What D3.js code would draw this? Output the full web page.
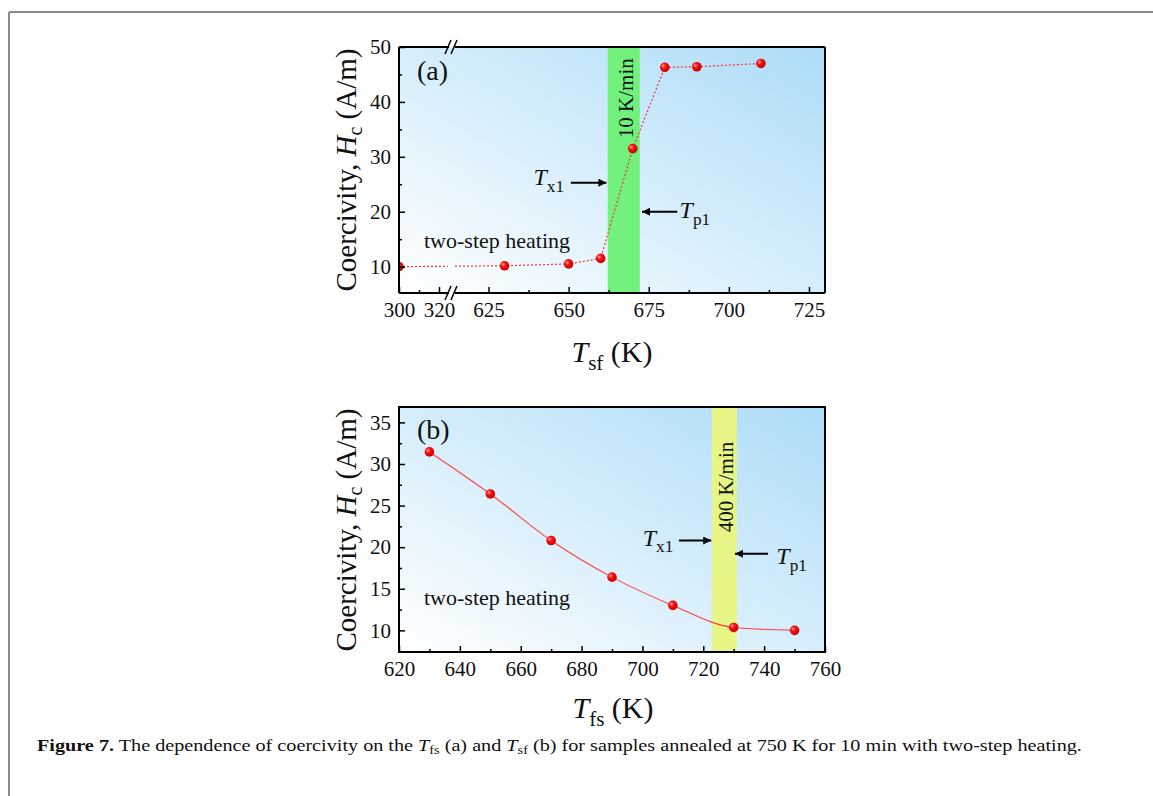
<!DOCTYPE html>
<html>
<head>
<meta charset="utf-8">
<script src="https://cdn.jsdelivr.net/npm/d3@7"></script>
<style>
  body { margin: 0; background: #fff; }
  svg text { font-family: "Liberation Serif", "Times New Roman", Times, "Nimbus Roman", "Nimbus Roman No9 L", FreeSerif, serif; fill: #111; }
</style>
</head>
<body>
<div id="chart"></div>
<script>
// Coercivity vs annealing temperature, two panels

const serifFont = "'Liberation Serif', 'Times New Roman', Times, 'Nimbus Roman', FreeSerif, serif";

// panel (a): Hc vs T_sf (broken x axis)
const tsfTemps = [300, 630, 650, 660, 670, 680, 690, 710];
const tsfHc = [10.0, 10.15, 10.5, 11.5, 31.5, 46.3, 46.4, 47.0];
const tsfMajorTicks = [300, 320, 625, 650, 675, 700, 725];
const tsfMinorTicks = [310, 637.5, 662.5, 687.5, 712.5];
const hcTicksA = [10, 20, 30, 40, 50];
const hcMinorA = [15, 25, 35, 45];
const bandA = [662.2, 672.2];

// panel (b): Hc vs T_fs
const tfsTemps = [630, 650, 670, 690, 710, 730, 750];
const tfsHc = [31.45, 26.4, 20.8, 16.4, 13.0, 10.35, 10.0];
const tfsMajorTicks = [620, 640, 660, 680, 700, 720, 740, 760];
const tfsMinorTicks = [630, 650, 670, 690, 710, 730, 750];
const hcTicksB = [10, 15, 20, 25, 30, 35];
const hcMinorB = [7.5, 12.5, 17.5, 22.5, 27.5, 32.5];
const bandB = [722.8, 731.0];

const W = 1153, H = 796;

const svg = d3.select("#chart")
  .append("svg")
  .attr("width", W)
  .attr("height", H);

// figure frame (top and left rule only)
svg.append("line").attr("x1", 9).attr("x2", W).attr("y1", 12).attr("y2", 12)
  .attr("stroke", "#8a8a8a").attr("stroke-width", 2);
svg.append("line").attr("x1", 9).attr("x2", 9).attr("y1", 12).attr("y2", H)
  .attr("stroke", "#8a8a8a").attr("stroke-width", 2);

const defs = svg.append("defs");

const bg = defs.append("linearGradient")
  .attr("id", "bgGrad")
  .attr("x1", 0).attr("y1", 1).attr("x2", 1).attr("y2", 0);
bg.append("stop").attr("offset", "0%").attr("stop-color", "#ffffff");
bg.append("stop").attr("offset", "100%").attr("stop-color", "#acdcf8");

const ball = defs.append("radialGradient")
  .attr("id", "ballGrad")
  .attr("cx", "35%").attr("cy", "35%").attr("r", "70%");
ball.append("stop").attr("offset", "0%").attr("stop-color", "#ffb0b0");
ball.append("stop").attr("offset", "35%").attr("stop-color", "#ff1010");
ball.append("stop").attr("offset", "100%").attr("stop-color", "#c00000");

defs.append("marker")
  .attr("id", "arrowHead")
  .attr("viewBox", "0 0 10 10")
  .attr("refX", 10).attr("refY", 5)
  .attr("markerWidth", 12).attr("markerHeight", 8)
  .attr("markerUnits", "userSpaceOnUse")
  .attr("orient", "auto")
  .append("path")
  .attr("d", "M0,0 L10,5 L0,10 Z")
  .attr("fill", "#000");

// Helpers

function tempLabel(g, x, y, sub, size) {
  const t = g.append("text")
    .attr("x", x).attr("y", y)
    .style("font-size", size + "px");
  t.append("tspan").style("font-style", "italic").text("T");
  t.append("tspan").attr("dy", size * 0.28).style("font-size", (size * 0.72) + "px").text(sub);
  return t;
}

function yTitle(g, cx, cy) {
  const t = g.append("text")
    .attr("transform", `translate(${cx},${cy}) rotate(-90)`)
    .attr("text-anchor", "middle")
    .style("font-size", "29px");
  t.append("tspan").text("Coercivity, ");
  t.append("tspan").style("font-style", "italic").text("H");
  t.append("tspan").attr("dy", 6).style("font-size", "20px").text("c");
  t.append("tspan").attr("dy", -6).text(" (A/m)");
}

function xTitle(g, cx, y, sub) {
  const t = g.append("text")
    .attr("x", cx).attr("y", y)
    .attr("text-anchor", "middle")
    .style("font-size", "30px");
  t.append("tspan").style("font-style", "italic").text("T");
  t.append("tspan").attr("dy", 8).style("font-size", "21px").text(sub);
  t.append("tspan").attr("dy", -8).text(" (K)");
}

function arrow(g, x1, y1, x2, y2) {
  g.append("line")
    .attr("x1", x1).attr("y1", y1)
    .attr("x2", x2).attr("y2", y2)
    .attr("stroke", "#000")
    .attr("stroke-width", 2)
    .attr("marker-end", "url(#arrowHead)");
}

function styleAxis(sel) {
  sel.select(".domain").remove();
  sel.selectAll(".tick line").attr("stroke", "#000").attr("stroke-width", 1.5);
  sel.selectAll(".tick text")
    .style("font-family", serifFont)
    .style("font-size", "21px")
    .attr("fill", "#111");
}

// Panel (a)

const A = { left: 399, top: 47, width: 426, height: 246 };
const breakPx = 53;

const xA = d3.scaleLinear()
  .domain([300, 326.5, 613.6, 730])
  .range([0, breakPx, breakPx, A.width]);

const yA = d3.scaleLinear()
  .domain([5.2, 50])
  .range([A.height, 0]);

const gA = svg.append("g").attr("transform", `translate(${A.left},${A.top})`);

gA.append("rect")
  .attr("width", A.width).attr("height", A.height)
  .attr("fill", "url(#bgGrad)");

gA.append("rect")
  .attr("x", xA(bandA[0]))
  .attr("width", xA(bandA[1]) - xA(bandA[0]))
  .attr("height", A.height)
  .attr("fill", "#72f07c");

gA.append("text")
  .attr("transform", `translate(${(xA(bandA[0]) + xA(bandA[1])) / 2 + 9},${yA(33.4)}) rotate(-90)`)
  .style("font-size", "21px")
  .text("10 K/min");

// clip to leave a gap at the axis break
const clipA = defs.append("clipPath").attr("id", "clipA");
clipA.append("rect").attr("x", -10).attr("y", -10).attr("width", breakPx - 4 + 10).attr("height", A.height + 20);
clipA.append("rect").attr("x", breakPx + 3).attr("y", -10).attr("width", A.width - breakPx + 10).attr("height", A.height + 20);

const clipPlotA = defs.append("clipPath").attr("id", "clipPlotA");
clipPlotA.append("rect").attr("x", 0).attr("y", -10).attr("width", A.width).attr("height", A.height + 20);

const ptsA = tsfTemps.map((t, i) => ({ t: t, hc: tsfHc[i] }));

gA.append("path")
  .datum(ptsA)
  .attr("clip-path", "url(#clipA)")
  .attr("fill", "none")
  .attr("stroke", "#ff3030")
  .attr("stroke-width", 1.2)
  .attr("stroke-dasharray", "2,2")
  .attr("d", d3.line().x(d => xA(d.t)).y(d => yA(d.hc)));

gA.append("g")
  .attr("clip-path", "url(#clipPlotA)")
  .selectAll("circle")
  .data(ptsA)
  .join("circle")
  .attr("cx", d => xA(d.t))
  .attr("cy", d => yA(d.hc))
  .attr("r", 4.8)
  .attr("fill", "url(#ballGrad)");

// axes (a)
const xAxisA = gA.append("g")
  .attr("transform", `translate(0,${A.height})`)
  .call(d3.axisBottom(xA).tickValues(tsfMajorTicks).tickSize(-6).tickPadding(9).tickFormat(d3.format("d")));
styleAxis(xAxisA);

const xMinorA = gA.append("g")
  .attr("transform", `translate(0,${A.height})`)
  .call(d3.axisBottom(xA).tickValues(tsfMinorTicks).tickSize(-3).tickFormat(""));
styleAxis(xMinorA);

const yAxisA = gA.append("g")
  .call(d3.axisLeft(yA).tickValues(hcTicksA).tickSize(-6).tickPadding(8));
styleAxis(yAxisA);

const yMinorA = gA.append("g")
  .call(d3.axisLeft(yA).tickValues(hcMinorA).tickSize(-3).tickFormat(""));
styleAxis(yMinorA);

// frame with break
const frameA = gA.append("g").attr("stroke", "#000").attr("stroke-width", 2).attr("fill", "none");
frameA.append("line").attr("x1", 0).attr("x2", 0).attr("y1", 0).attr("y2", A.height);
frameA.append("line").attr("x1", A.width).attr("x2", A.width).attr("y1", 0).attr("y2", A.height);
[0, A.height].forEach(yy => {
  frameA.append("line").attr("x1", 0).attr("x2", breakPx - 3).attr("y1", yy).attr("y2", yy);
  frameA.append("line").attr("x1", breakPx + 3).attr("x2", A.width).attr("y1", yy).attr("y2", yy);
  frameA.append("line").attr("x1", breakPx - 7).attr("y1", yy + 7).attr("x2", breakPx - 1).attr("y2", yy - 7).attr("stroke-width", 1.5);
  frameA.append("line").attr("x1", breakPx - 1).attr("y1", yy + 7).attr("x2", breakPx + 5).attr("y2", yy - 7).attr("stroke-width", 1.5);
});

gA.append("text").attr("x", 18).attr("y", 33).style("font-size", "28px").text("(a)");
gA.append("text").attr("x", 25).attr("y", yA(13.4)).style("font-size", "22px").text("two-step heating");

tempLabel(gA, xA(639), yA(24.8), "x1", 24);
arrow(gA, xA(650.7), yA(25.3), xA(661.8), yA(25.3));
tempLabel(gA, xA(684.6), yA(18.8), "p1", 24);
arrow(gA, xA(683.9), yA(20), xA(672.9), yA(20));

yTitle(svg, 356, 170);
xTitle(svg, 612, 362, "sf");

// Panel (b)

const B = { left: 399, top: 407, width: 426, height: 245 };

const xB = d3.scaleLinear().domain([620, 760]).range([0, B.width]);
const yB = d3.scaleLinear().domain([7.4, 36.85]).range([B.height, 0]);

const gB = svg.append("g").attr("transform", `translate(${B.left},${B.top})`);

gB.append("rect")
  .attr("width", B.width).attr("height", B.height)
  .attr("fill", "url(#bgGrad)");

gB.append("rect")
  .attr("x", xB(bandB[0]))
  .attr("width", xB(bandB[1]) - xB(bandB[0]))
  .attr("height", B.height)
  .attr("fill", "#e6f585");

gB.append("text")
  .attr("transform", `translate(${(xB(bandB[0]) + xB(bandB[1])) / 2 + 9},${yB(21.8)}) rotate(-90)`)
  .style("font-size", "21px")
  .text("400 K/min");

const ptsB = tfsTemps.map((t, i) => ({ t: t, hc: tfsHc[i] }));

gB.append("path")
  .datum(ptsB)
  .attr("fill", "none")
  .attr("stroke", "#ff4040")
  .attr("stroke-width", 1.1)
  .attr("d", d3.line().curve(d3.curveMonotoneX).x(d => xB(d.t)).y(d => yB(d.hc)));

gB.append("g")
  .selectAll("circle")
  .data(ptsB)
  .join("circle")
  .attr("cx", d => xB(d.t))
  .attr("cy", d => yB(d.hc))
  .attr("r", 4.8)
  .attr("fill", "url(#ballGrad)");

const xAxisB = gB.append("g")
  .attr("transform", `translate(0,${B.height})`)
  .call(d3.axisBottom(xB).tickValues(tfsMajorTicks).tickSize(-6).tickPadding(9).tickFormat(d3.format("d")));
styleAxis(xAxisB);

const xMinorB = gB.append("g")
  .attr("transform", `translate(0,${B.height})`)
  .call(d3.axisBottom(xB).tickValues(tfsMinorTicks).tickSize(-3).tickFormat(""));
styleAxis(xMinorB);

const yAxisB = gB.append("g")
  .call(d3.axisLeft(yB).tickValues(hcTicksB).tickSize(-6).tickPadding(8));
styleAxis(yAxisB);

const yMinorB = gB.append("g")
  .call(d3.axisLeft(yB).tickValues(hcMinorB).tickSize(-3).tickFormat(""));
styleAxis(yMinorB);

gB.append("rect")
  .attr("width", B.width).attr("height", B.height)
  .attr("fill", "none").attr("stroke", "#000").attr("stroke-width", 2);

gB.append("text").attr("x", 18).attr("y", 32).style("font-size", "28px").text("(b)");
gB.append("text").attr("x", 25).attr("y", yB(13.1)).style("font-size", "22px").text("two-step heating");

tempLabel(gB, xB(700.1), yB(20.2), "x1", 24);
arrow(gB, xB(712), yB(20.8), xB(722.6), yB(20.8));
tempLabel(gB, xB(744), yB(18.0), "p1", 24);
arrow(gB, xB(741.3), yB(19.2), xB(730.4), yB(19.2));

yTitle(svg, 356, 530);
xTitle(svg, 613, 718, "fs");

// Caption

const cap = svg.append("text")
  .attr("x", 0).attr("y", 0)
  .style("font-size", "17px");
cap.append("tspan").style("font-weight", "bold").text("Figure 7.");
cap.append("tspan").text(" The dependence of coercivity on the ");
cap.append("tspan").style("font-style", "italic").text("T");
cap.append("tspan").attr("dy", 3).style("font-size", "12px").text("fs");
cap.append("tspan").attr("dy", -3).text(" (a) and ");
cap.append("tspan").style("font-style", "italic").text("T");
cap.append("tspan").attr("dy", 3).style("font-size", "12px").text("sf");
cap.append("tspan").attr("dy", -3).text(" (b) for samples annealed at 750 K for 10  min with two-step heating.");

const capW = cap.node().getComputedTextLength();
cap.attr("transform", `translate(37,751) scale(${1046 / capW},1)`);
</script>
</body>
</html>
